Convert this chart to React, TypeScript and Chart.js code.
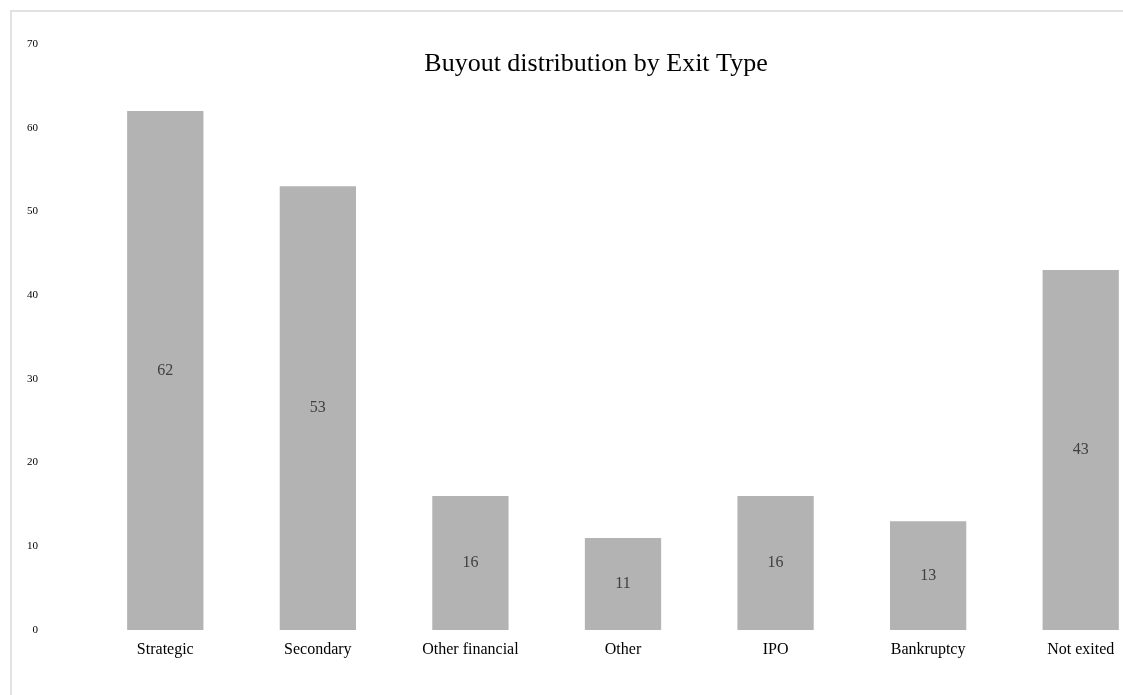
import React, { useEffect, useRef } from "react";
import { Chart, registerables } from "chart.js";

Chart.register(...registerables);

const categories = ["Strategic", "Secondary", "Other financial", "Other", "IPO", "Bankruptcy", "Not exited"];
const counts = [62, 53, 16, 11, 16, 13, 43];
const yTicks = [0, 10, 20, 30, 40, 50, 60, 70];
const titleText = "Buyout distribution by Exit Type";

const FONT = "'Liberation Serif', 'Times New Roman', serif";

export default function App() {
  const ref = useRef<HTMLCanvasElement | null>(null);

  useEffect(() => {
    if (!ref.current) return;
    const overlay = {
      id: "overlay",
      beforeDraw(chart: any) {
        const ctx = chart.ctx;
        ctx.save();
        ctx.fillStyle = "#ffffff";
        ctx.fillRect(0, 0, chart.width, chart.height);
        ctx.strokeStyle = "#d9d9d9";
        ctx.lineWidth = 1.5;
        ctx.beginPath();
        ctx.moveTo(11, chart.height);
        ctx.lineTo(11, 11);
        ctx.lineTo(chart.width, 11);
        ctx.stroke();
        ctx.restore();
      },
      afterDatasetsDraw(chart: any) {
        const ctx = chart.ctx;
        const meta = chart.getDatasetMeta(0);
        ctx.save();
        ctx.fillStyle = "#404040";
        ctx.font = `16px ${FONT}`;
        ctx.textAlign = "center";
        ctx.textBaseline = "middle";
        meta.data.forEach((bar: any, i: number) => {
          ctx.fillText(String(counts[i]), bar.x, (bar.y + bar.base) / 2);
        });
        ctx.font = `26px ${FONT}`;
        ctx.fillStyle = "#000000";
        ctx.fillText(titleText, 596, 64);
        ctx.restore();
      },
    };

    const chart = new Chart(ref.current, {
      type: "bar",
      data: {
        labels: categories,
        datasets: [
          {
            data: counts,
            backgroundColor: "#b3b3b3",
            barPercentage: 0.5,
            categoryPercentage: 1,
          },
        ],
      },
      options: {
        animation: false,
        responsive: false,
        devicePixelRatio: 1,
        layout: { padding: { left: 0, right: 43, top: 44, bottom: 35 } },
        plugins: { legend: { display: false }, title: { display: false }, tooltip: { enabled: false } },
        scales: {
          x: {
            grid: { display: false, drawTicks: false },
            border: { display: false },
            ticks: { color: "#000000", font: { family: FONT, size: 16 }, padding: 10, maxRotation: 0, autoSkip: false },
            afterFit: (s: any) => { s.height = 30; },
          },
          y: {
            min: 0,
            max: 70,
            grid: { display: false, drawTicks: false },
            border: { display: false },
            afterBuildTicks: (s: any) => { s.ticks = yTicks.map((v) => ({ value: v })); },
            ticks: { color: "#000000", font: { family: FONT, size: 11 }, padding: 51 },
            afterFit: (s: any) => { s.width = 89; s.paddingTop = 6; s.paddingBottom = 6; },
          },
        },
      },
      plugins: [overlay],
    });
    return () => chart.destroy();
  }, []);

  return (
    <div style={{ position: "fixed", left: 0, top: 0, width: 1123, height: 695, overflow: "hidden", background: "#fff" }}>
      <canvas ref={ref} width={1200} height={695} style={{ display: "block", width: 1200, height: 695 }} />
    </div>
  );
}
